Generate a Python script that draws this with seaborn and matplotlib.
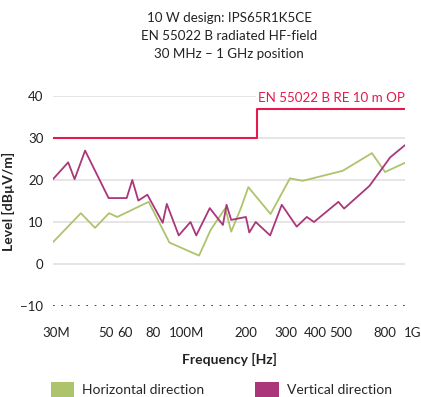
import matplotlib
matplotlib.use("Agg")
import matplotlib.pyplot as plt
import seaborn as sns
import pandas as pd
from matplotlib.patches import Patch
from matplotlib.transforms import ScaledTranslation

# ---- data ----
freq_h = [30e6, 39.6e6, 45.6e6, 52.4e6, 56.9e6, 77.8e6, 95.7e6, 128.5e6, 144.5e6,
          167e6, 177e6, 195e6, 210e6, 262e6, 318e6, 361e6, 538e6, 719e6, 820e6, 1e9]
level_h = [5.2, 12.1, 8.6, 12.1, 11.2, 14.8, 5.1, 2.0, 8.2,
           13.3, 7.7, 13.3, 18.3, 11.9, 20.4, 19.8, 22.2, 26.4, 21.9, 24.1]

freq_v = [30e6, 34.9e6, 37.2e6, 41.3e6, 52.2e6, 62.5e6, 66.1e6, 70.2e6, 76.8e6,
          89.5e6, 93.2e6, 105e6, 118e6, 125e6, 143e6, 163e6, 169e6, 177e6, 205e6,
          212e6, 226e6, 261e6, 293e6, 340e6, 376e6, 404e6, 515e6, 545e6, 702e6,
          863e6, 1e9]
level_v = [20.2, 24.2, 20.2, 27.0, 15.7, 15.7, 20.0, 15.1, 16.5,
           9.8, 14.3, 6.8, 10.0, 6.8, 13.3, 9.3, 14.1, 10.5, 11.2,
           7.5, 10.0, 6.8, 14.1, 8.9, 11.2, 10.0, 14.8, 13.2, 18.6,
           25.4, 28.3]

limit_freq = [30e6, 230e6, 1e9]
limit_level = [30, 37, 37]

series_names = ["Horizontal direction", "Vertical direction"]
tick_freqs = [30e6, 50e6, 60e6, 80e6, 100e6, 200e6, 300e6, 400e6, 500e6, 800e6, 1e9]
tick_labels = ["30M", "50", "60", "80", "100M", "200", "300", "400", "500", "800", "1G"]
y_ticks = [-10, 0, 10, 20, 30, 40]

title = "10 W design: IPS65R1K5CE\nEN 55022 B radiated HF-field\n30 MHz \u2013 1 GHz position"
limit_name = "EN 55022 B RE 10 m OP"

colors = {"Horizontal direction": "#adc46c", "Vertical direction": "#ab367a"}
limit_color = "#e5194d"

# ---- build table ----
df = pd.concat([
    pd.DataFrame({"freq": freq_h, "level": level_h, "series": series_names[0]}),
    pd.DataFrame({"freq": freq_v, "level": level_v, "series": series_names[1]}),
], ignore_index=True)
lim = pd.DataFrame({"freq": limit_freq, "level": limit_level})

sns.set_theme(style="white")
plt.rcParams["font.family"] = ["Lato", "DejaVu Sans"]

fig = plt.figure(figsize=(4.21, 3.97), dpi=100)
ax = fig.add_axes([53 / 421, (397 - 306) / 397, (405 - 53) / 421, (306 - 96) / 397])

sns.lineplot(data=df, x="freq", y="level", hue="series", palette=colors,
             ax=ax, legend=False, linewidth=1.3, sort=False)
sns.lineplot(data=lim, x="freq", y="level", color=limit_color, drawstyle="steps-post",
             ax=ax, linewidth=1.5, legend=False)

ax.set_xscale("log")
ax.set_xlim(30e6, 1e9)
ax.set_ylim(-10, 40)
ax.set_xticks(tick_freqs)
ax.set_xticklabels(tick_labels)
ax.minorticks_off()
ax.set_yticks(y_ticks)
ax.tick_params(axis="both", length=0, labelsize=9.5, colors="#222222")
ax.tick_params(axis="y", pad=7)
ax.tick_params(axis="x", pad=15)

# nudge x tick labels toward the reference placement
shifts = {"30M": 3, "100M": 13, "1G": 8, "500": 5}
for lbl in ax.get_xticklabels():
    dx = shifts.get(lbl.get_text(), 2)
    lbl.set_transform(lbl.get_transform() + ScaledTranslation(dx / 100, 0, fig.dpi_scale_trans))

for v in y_ticks[1:]:
    ax.axhline(v, color="#e3dfe0", linewidth=1.2, zorder=0)
ax.axhline(-10, color="#222222", linewidth=1.2, linestyle=(0, (1, 4)), zorder=0)

for s in ax.spines.values():
    s.set_visible(False)

ax.set_xlabel("Frequency [Hz]", fontsize=10, fontweight="bold", labelpad=10, color="#222222")
ax.set_ylabel("Level [dB\u00b5V/m]", fontsize=10, fontweight="bold", labelpad=4, color="#222222")

ax.text(1e9, 39.6, limit_name, color=limit_color, fontsize=9.6, ha="right", va="center",
        bbox=dict(facecolor="white", edgecolor="none", pad=1.5))

fig.text(229 / 421, 1 - 12 / 397, title, ha="center", va="top", fontsize=9.6,
         linespacing=1.6, color="#222222")

handles = [Patch(facecolor=colors[n], edgecolor="none", label=n) for n in series_names]
fig.legend(handles=handles, loc="lower left", bbox_to_anchor=(38 / 421, -12 / 397), ncol=2,
           frameon=False, fontsize=10, handlelength=1.7, handleheight=1.25,
           handletextpad=0.55, columnspacing=3.7)

fig.savefig("out.png", dpi=100)
